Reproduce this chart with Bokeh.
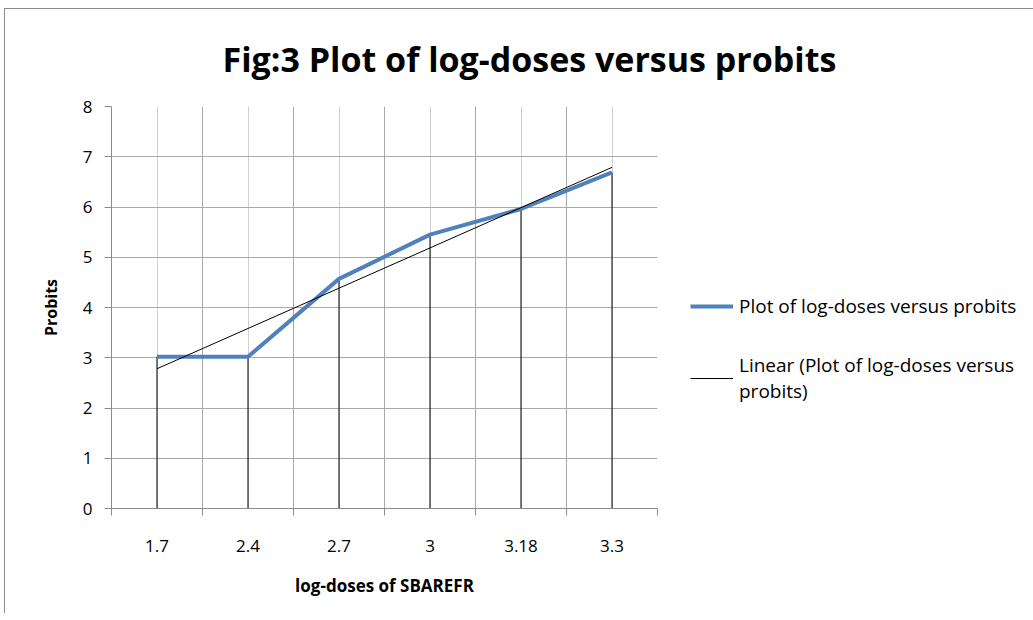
import numpy as np
from bokeh.plotting import figure
from bokeh.models import (FactorRange, Range1d, LinearAxis, CategoricalAxis, FixedTicker,
                          CategoricalTicker, Grid, Legend, LegendItem, ColumnDataSource)
from bokeh.embed import file_html
from bokeh.resources import INLINE

# ---- data ----
log_doses = ["1.7", "2.4", "2.7", "3", "3.18", "3.3"]
probits = [3.02, 3.02, 4.57, 5.45, 5.96, 6.69]
y_ticks = [0, 1, 2, 3, 4, 5, 6, 7, 8]

title_text = "Fig:3 Plot of log-doses versus probits"
x_title = "log-doses of SBAREFR"
y_title = "Probits"
series_name = "Plot of log-doses versus probits"
trend_name = "Linear (Plot of log-doses versus\nprobits)"

FONT = "Open Sans"

# linear trendline (Excel style: fitted on category index 1..n)
idx = np.arange(1, len(log_doses) + 1)
slope, intercept = np.polyfit(idx, probits, 1)
trend = list(slope * idx + intercept)

src = ColumnDataSource(dict(x=log_doses, y=probits, t=trend, z=[0] * len(log_doses)))
bounds = list(range(len(log_doses) + 1))  # category boundaries in synthetic coords

p = figure(frame_width=546, frame_height=402, output_backend="svg", toolbar_location=None,
           x_range=FactorRange(*log_doses, range_padding=0), y_range=Range1d(0, 8),
           x_axis_location=None, y_axis_location="left",
           min_border_left=106, min_border_top=96, min_border_right=0, min_border_bottom=105,
           styles={"border-top": "1px solid #8c8c8c", "border-left": "1px solid #8c8c8c",
                   "margin-left": "4px", "margin-top": "8px"})
p.outline_line_color = None

# title
p.title.text = title_text
p.title.align = "left"
p.title.offset = 111
p.title.text_font = FONT
p.title.text_font_style = "bold"
p.title.text_font_size = "34px"
p.title.text_color = "#000000"
p.title.standoff = 49

for g in list(p.xgrid) + list(p.ygrid):
    g.visible = False

# grids
center_grid = Grid(dimension=0, ticker=CategoricalTicker(), grid_line_color="#d0d0d0", grid_line_width=1)
bound_grid = Grid(dimension=0, ticker=FixedTicker(ticks=bounds), grid_line_color="#a8a8a8", grid_line_width=1)
h_grid = Grid(dimension=1, ticker=FixedTicker(ticks=y_ticks), grid_line_color="#a8a8a8", grid_line_width=1)
p.add_layout(center_grid)
p.add_layout(bound_grid)
p.add_layout(h_grid)

# y axis
ya = p.yaxis[0]
ya.ticker = FixedTicker(ticks=y_ticks)
ya.axis_line_color = "#8c8c8c"
ya.major_tick_line_color = "#8c8c8c"
ya.major_tick_out = 7
ya.major_tick_in = 0
ya.minor_tick_line_color = None
ya.major_label_standoff = 12
ya.major_label_text_font = FONT
ya.major_label_text_font_size = "17px"
ya.major_label_text_color = "#000000"
ya.axis_label = y_title
ya.axis_label_text_font = FONT
ya.axis_label_text_font_style = "bold"
ya.axis_label_text_font_size = "16px"
ya.axis_label_text_color = "#000000"
ya.axis_label_standoff = 18

# x axes: boundary ticks + category labels
tick_axis = LinearAxis(ticker=FixedTicker(ticks=bounds),
                       major_label_overrides={b: "" for b in bounds},
                       axis_line_color="#8c8c8c", major_tick_line_color="#8c8c8c",
                       major_tick_out=7, major_tick_in=0, minor_tick_line_color=None,
                       major_label_standoff=0)
p.add_layout(tick_axis, "below")
cat_axis = CategoricalAxis(axis_line_color=None, major_tick_line_color=None, minor_tick_line_color=None,
                           major_tick_out=0, major_tick_in=0, major_label_standoff=24,
                           major_label_text_font=FONT, major_label_text_font_size="17px",
                           major_label_text_color="#000000",
                           axis_label=x_title, axis_label_text_font=FONT,
                           axis_label_text_font_style="bold", axis_label_text_font_size="17px",
                           axis_label_text_color="#000000", axis_label_standoff=19)
p.add_layout(cat_axis, "below")

# drop lines
p.segment(x0="x", y0="z", x1="x", y1="y", source=src, line_color="#000000", line_width=1)
# data line
main = p.line("x", "y", source=src, line_color="#4F81BD", line_width=4)
# trendline
tr = p.line("x", "t", source=src, line_color="#000000", line_width=1)

legend = Legend(items=[LegendItem(label=series_name, renderers=[main]),
                       LegendItem(label=trend_name, renderers=[tr])],
                location=(33, 104), border_line_color=None, background_fill_alpha=0,
                glyph_width=43, label_standoff=6, spacing=33, padding=0, margin=0,
                label_text_font=FONT, label_text_font_size="19px", label_text_color="#000000",
                label_text_line_height=1.6)
p.add_layout(legend, "right")

open("out.html", "w").write(file_html(p, INLINE))
